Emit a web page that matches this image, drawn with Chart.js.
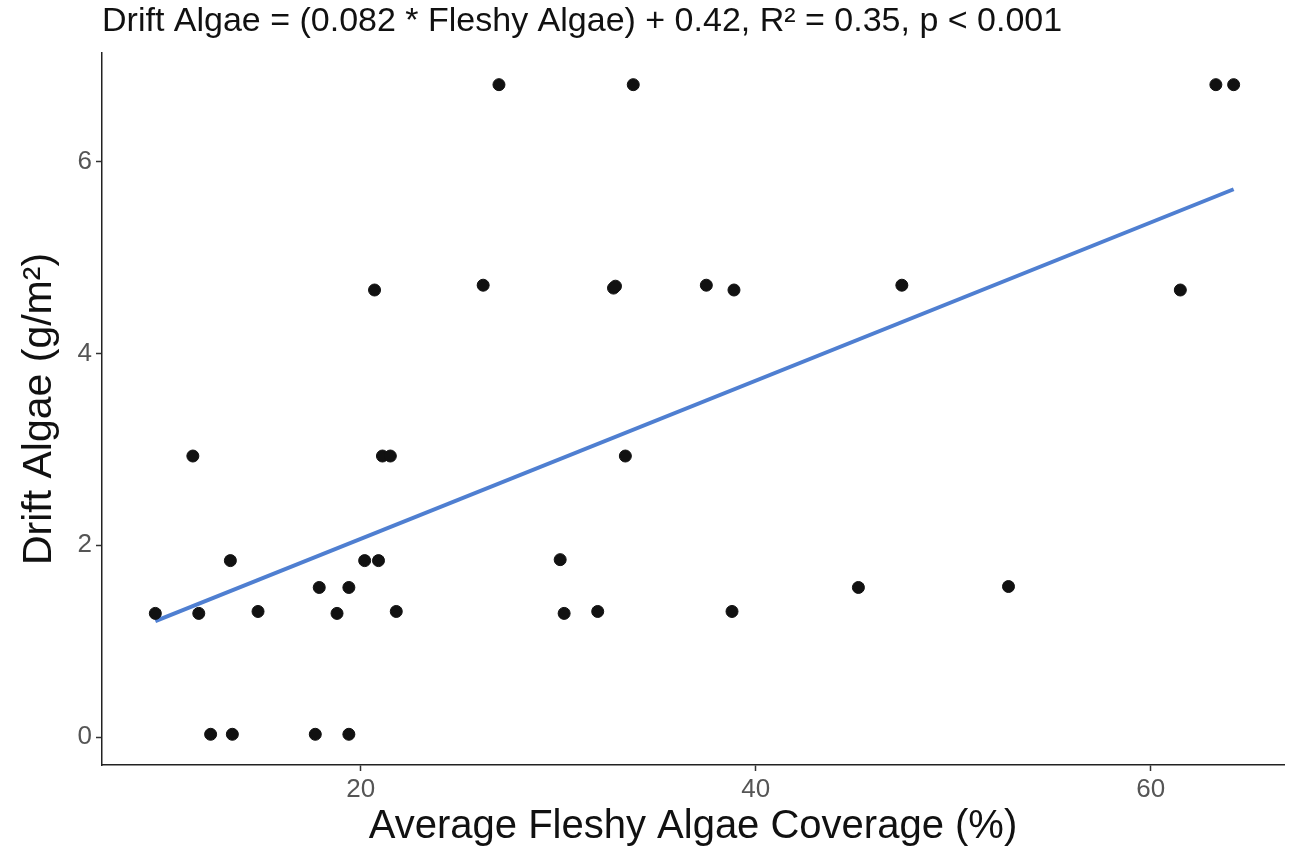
<!DOCTYPE html>
<html>
<head>
<meta charset="utf-8">
<script src="https://cdn.jsdelivr.net/npm/chart.js@4/dist/chart.umd.min.js"></script>
<style>
  html, body { margin: 0; padding: 0; background: #fff; }
  #wrap { width: 1294px; height: 851px; }
</style>
</head>
<body>
<div id="wrap"><canvas id="chart"></canvas></div>
<script>
// Fleshy algae coverage (%) vs drift algae (g/m2)
const coverage = [
  27.0, 33.8, 63.3, 64.2,
  26.2, 32.8, 32.9, 37.5, 38.9, 20.7, 47.4, 61.5,
  11.5, 21.1, 21.5, 33.4,
  13.4, 20.2, 20.9, 30.1,
  17.9, 19.4, 45.2, 52.8,
  9.6, 11.8, 14.8, 18.8, 21.8, 30.3, 32.0, 38.8,
  12.4, 13.5, 17.7, 19.4
];
const driftAlgae = [
  6.80, 6.80, 6.80, 6.80,
  4.71, 4.68, 4.70, 4.71, 4.66, 4.66, 4.71, 4.66,
  2.93, 2.93, 2.93, 2.93,
  1.84, 1.84, 1.84, 1.85,
  1.56, 1.56, 1.56, 1.57,
  1.29, 1.29, 1.31, 1.29, 1.31, 1.29, 1.31, 1.31,
  0.03, 0.03, 0.03, 0.03
];
// ends of the fitted line
const fitX = [9.6, 64.2];
const fitY = [1.21, 5.71];

const xTicks = [20, 40, 60];
const yTicks = [0, 2, 4, 6];

const titleText = "Drift Algae = (0.082 * Fleshy Algae) + 0.42, R\u00b2 = 0.35, p < 0.001";
const xTitle = "Average Fleshy Algae Coverage (%)";
const yTitle = "Drift Algae (g/m\u00b2)";

const FONT = "'Liberation Sans', Arial, sans-serif";

const ctx = document.getElementById("chart").getContext("2d");
new Chart(ctx, {
  type: "scatter",
  data: {
    datasets: [
      {
        label: "fit",
        type: "line",
        data: fitX.map((x, i) => ({ x: x, y: fitY[i] })),
        borderColor: "#4f7fd1",
        borderWidth: 4,
        pointRadius: 0,
        fill: false,
        order: 2,
      },
      {
        label: "sites",
        data: coverage.map((x, i) => ({ x: x, y: driftAlgae[i] })),
        backgroundColor: "#111",
        borderColor: "#111",
        pointRadius: 6,
        order: 1,
      },
    ],
  },
  options: {
    responsive: true,
    maintainAspectRatio: false,
    animation: false,
    layout: { padding: { left: 0, right: 10, top: 0, bottom: 0 } },
    plugins: {
      legend: { display: false },
      tooltip: { enabled: false },
      title: {
        display: true,
        text: titleText,
        align: "start",
        fullSize: false,
        color: "#111",
        font: { family: FONT, size: 34, weight: "normal" },
        padding: { top: 1, bottom: 11.2 },
      },
    },
    scales: {
      x: {
        type: "linear",
        min: 6.9,
        max: 66.75,
        afterBuildTicks: (s) => { s.ticks = xTicks.map((v) => ({ value: v })); },
        afterFit: (s) => { s.height = 86; },
        grid: { drawOnChartArea: false, drawTicks: true, tickLength: 6, color: "#333", tickWidth: 1.5 },
        border: { display: true, color: "#222", width: 1.5 },
        ticks: { color: "#555", font: { family: FONT, size: 26 }, padding: 3 },
        title: {
          display: true,
          text: xTitle,
          color: "#111",
          font: { family: FONT, size: 40 },
          padding: { top: 0, bottom: 0 },
        },
      },
      y: {
        type: "linear",
        min: -0.29,
        max: 7.13,
        afterBuildTicks: (s) => { s.ticks = yTicks.map((v) => ({ value: v })); },
        afterFit: (s) => { s.width = 102; },
        grid: { drawOnChartArea: false, drawTicks: true, tickLength: 6, color: "#333", tickWidth: 1.5 },
        border: { display: true, color: "#222", width: 1.5 },
        ticks: { color: "#555", font: { family: FONT, size: 26 }, padding: 4 },
        title: {
          display: true,
          text: yTitle,
          color: "#111",
          font: { family: FONT, size: 41 },
          padding: { top: 15, bottom: 0 },
        },
      },
    },
  },
});
</script>
</body>
</html>
